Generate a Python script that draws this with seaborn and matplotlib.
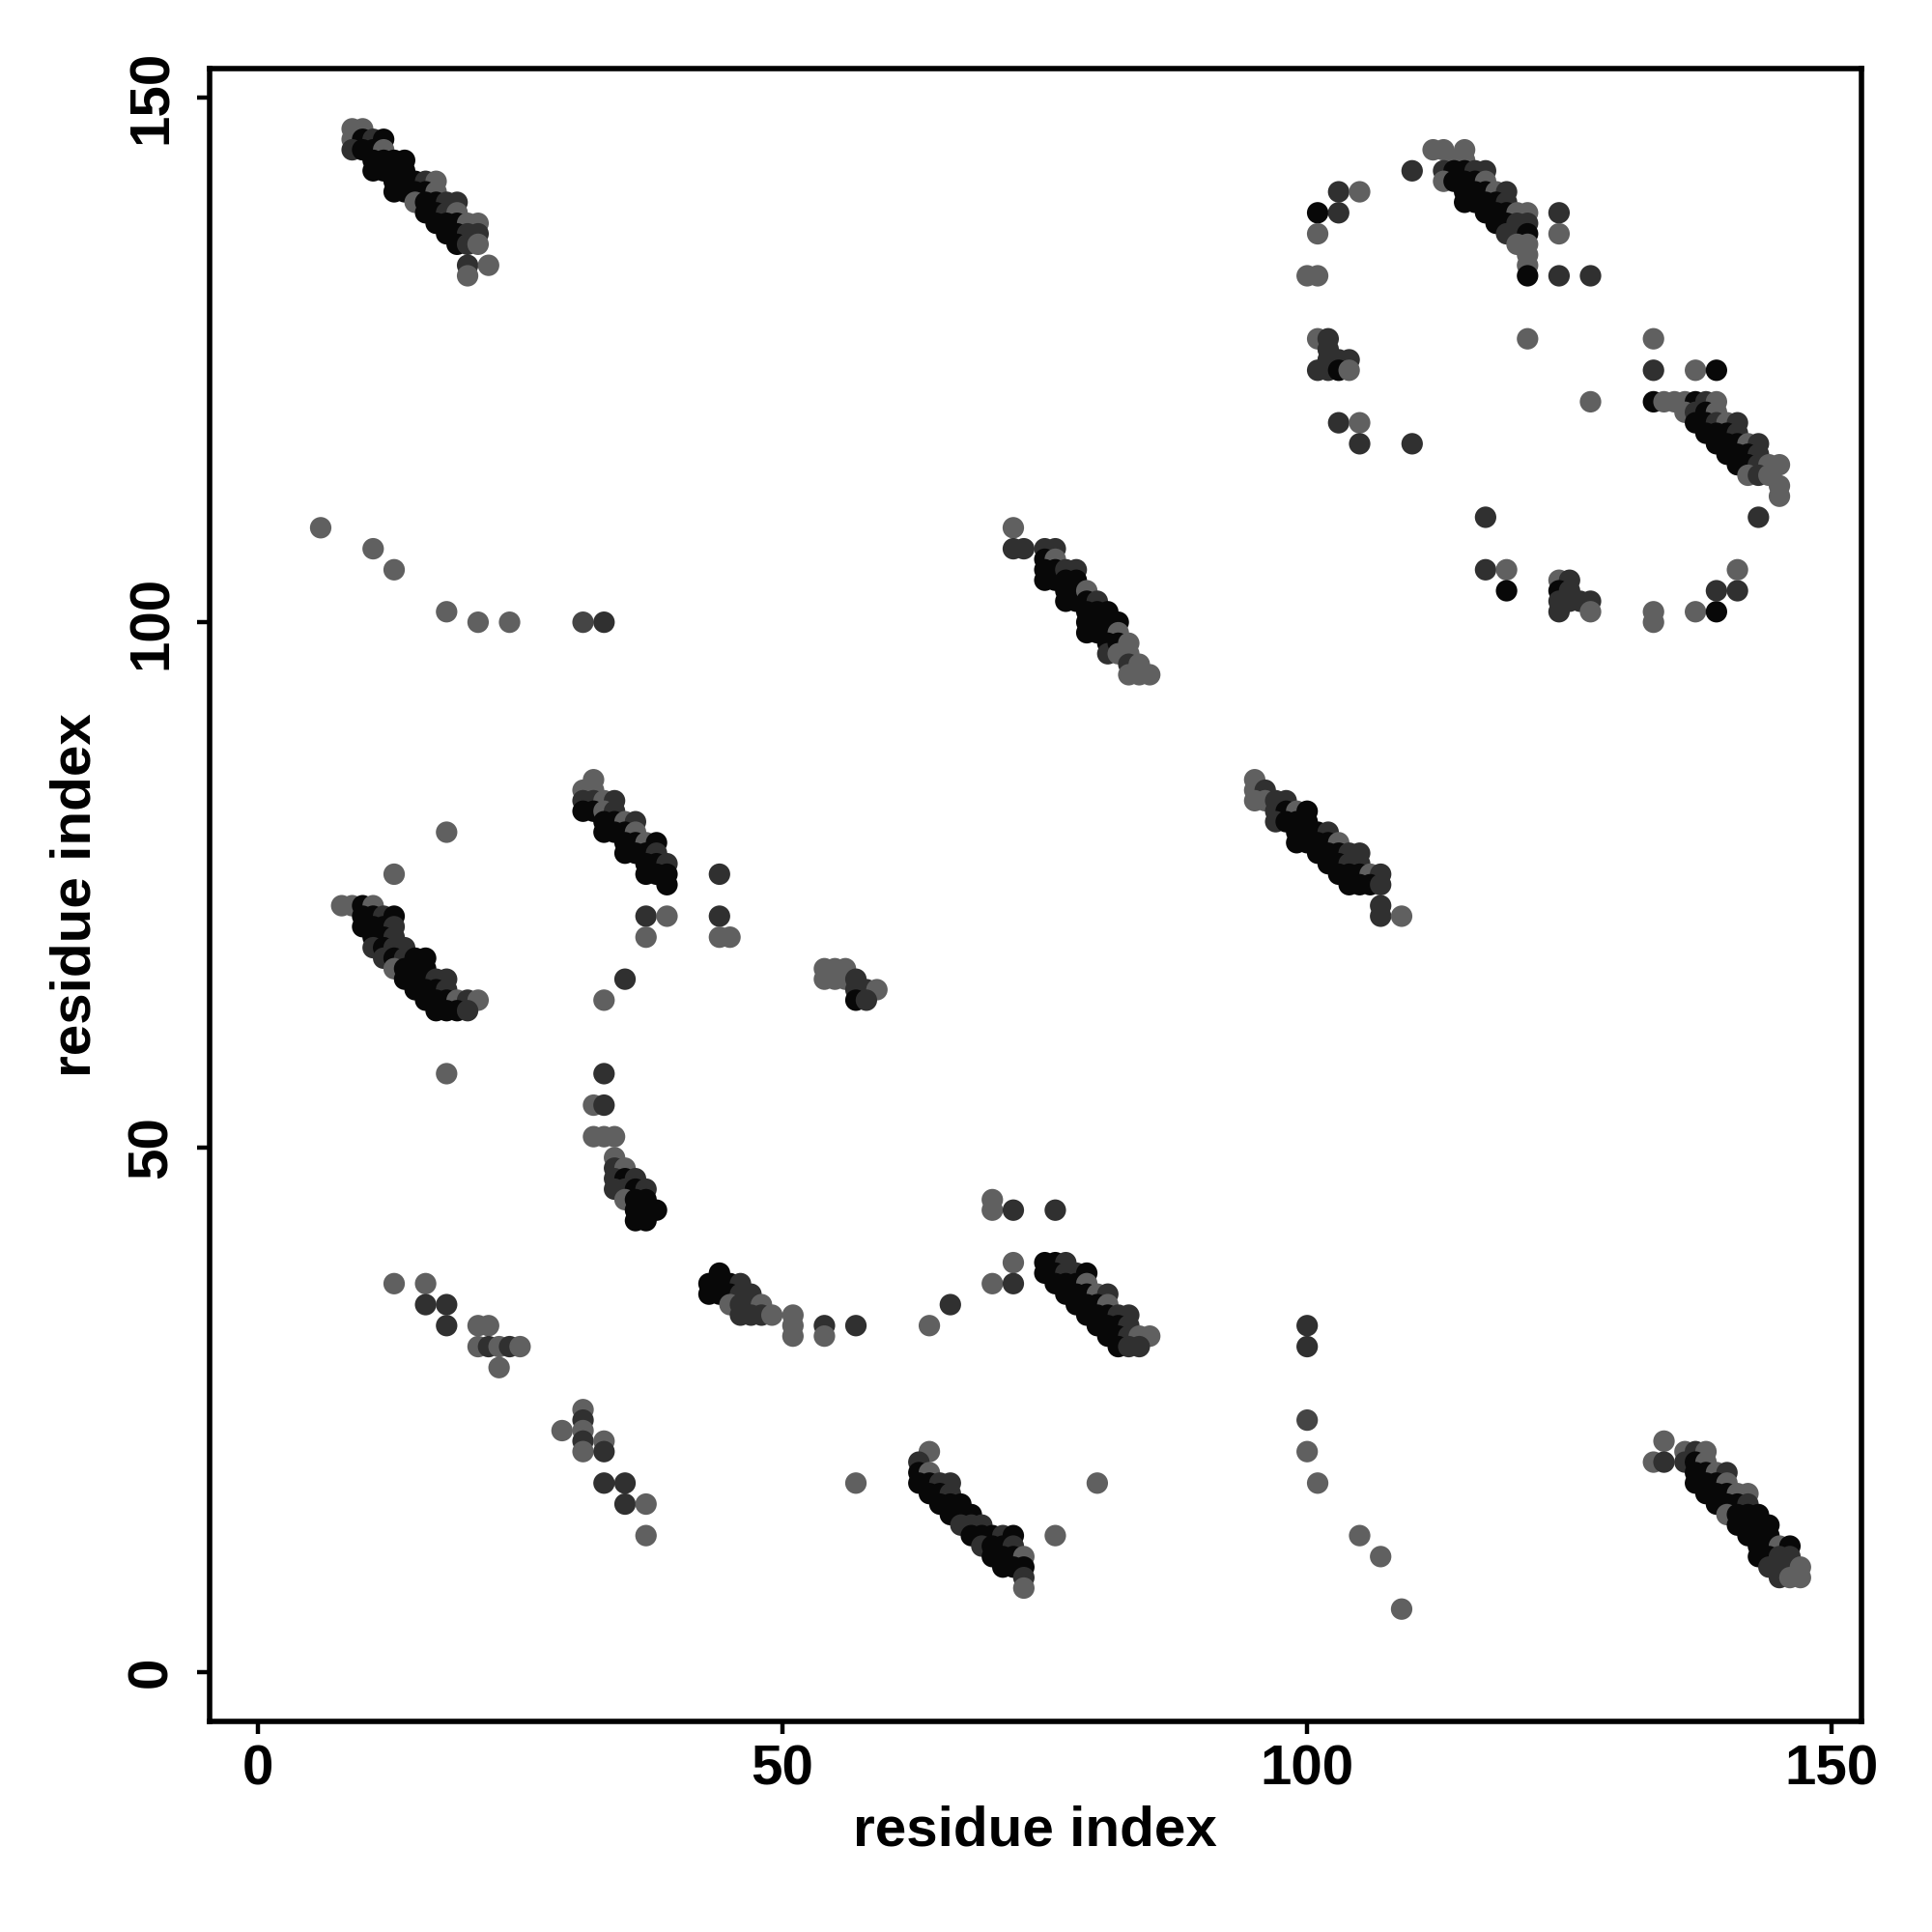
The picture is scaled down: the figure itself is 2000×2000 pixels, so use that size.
import seaborn as sns
import matplotlib.pyplot as plt
import pandas as pd
from matplotlib.colors import LinearSegmentedColormap

# predicted contacts (residue i, residue j, shade)
# shade: l = light grey, m = mid grey, d = dark grey, k = black
band_top_left = [
    (9, 147, "l"), (10, 147, "l"), (9, 146, "l"), (10, 146, "k"), (11, 146, "d"), (12, 146, "k"),
    (9, 145, "d"), (10, 145, "k"), (11, 145, "k"), (12, 145, "l"),
    (11, 144, "k"), (12, 144, "k"), (13, 144, "k"), (14, 144, "k"),
    (11, 143, "k"), (12, 143, "k"), (13, 143, "k"), (14, 143, "k"),
    (13, 142, "k"), (14, 142, "k"), (15, 142, "k"), (16, 142, "d"), (17, 142, "l"),
    (13, 141, "k"), (14, 141, "k"), (15, 141, "k"), (16, 141, "k"), (17, 141, "l"),
    (15, 140, "l"), (16, 140, "k"), (17, 140, "k"), (18, 140, "d"), (19, 140, "d"),
    (16, 139, "k"), (17, 139, "k"), (18, 139, "d"), (19, 139, "l"),
    (17, 138, "k"), (18, 138, "k"), (19, 138, "k"), (20, 138, "l"), (21, 138, "l"),
    (18, 137, "k"), (19, 137, "k"), (20, 137, "d"), (21, 137, "d"),
    (19, 136, "k"), (20, 136, "d"), (21, 136, "l"),
    (20, 134, "d"), (20, 133, "l"), (22, 134, "l"),
]

stray_left = [
    (6, 109, "l"), (11, 107, "l"), (13, 105, "l"), (18, 101, "l"), (21, 100, "l"),
    (24, 100, "l"), (31, 100, "m"), (33, 100, "d"),
    (18, 80, "l"), (13, 76, "l"), (18, 57, "l"),
    (44, 76, "d"), (44, 72, "d"), (44, 70, "l"), (45, 70, "l"),
    (37, 72, "d"), (39, 72, "l"), (37, 70, "l"), (35, 66, "d"), (33, 64, "l"),
    (33, 57, "d"), (32, 54, "l"), (33, 54, "d"), (32, 51, "l"), (33, 51, "l"), (34, 51, "l"),
]

band_mid_top = [
    (72, 109, "l"), (72, 107, "d"), (73, 107, "d"), (75, 107, "d"), (76, 107, "d"),
    (75, 106, "k"), (76, 106, "l"), (75, 105, "k"), (75, 104, "k"), (76, 105, "k"), (76, 104, "k"),
    (77, 105, "d"), (78, 105, "d"), (77, 104, "k"), (78, 104, "k"), (77, 103, "k"), (77, 102, "k"),
    (78, 103, "k"), (78, 102, "k"), (79, 103, "l"), (79, 102, "k"), (80, 102, "d"),
    (80, 101, "k"), (79, 101, "k"), (79, 100, "k"), (79, 99, "k"), (80, 100, "k"), (80, 99, "k"),
    (81, 101, "k"), (81, 100, "k"), (82, 100, "k"), (81, 99, "k"), (82, 99, "l"),
    (81, 98, "k"), (81, 97, "d"), (82, 98, "k"), (83, 98, "l"), (83, 97, "l"), (82, 97, "l"),
    (83, 96, "d"), (84, 96, "l"), (83, 95, "l"), (84, 95, "l"), (85, 95, "l"),
]

top_right = [
    (110, 143, "d"), (103, 141, "d"), (105, 141, "l"), (101, 139, "k"), (103, 139, "d"),
    (101, 137, "l"), (100, 133, "l"), (101, 133, "l"),
    (124, 139, "d"), (124, 137, "l"), (124, 133, "d"), (127, 133, "d"),
    (121, 127, "l"), (101, 127, "l"), (102, 127, "d"), (102, 126, "d"), (102, 125, "d"),
    (103, 125, "d"), (104, 125, "d"), (101, 124, "d"), (102, 124, "d"), (103, 124, "k"), (104, 124, "l"),
    (127, 121, "l"), (103, 119, "d"), (105, 119, "l"), (105, 117, "d"), (110, 117, "d"),
    (133, 127, "l"), (133, 124, "d"), (137, 124, "l"), (139, 124, "k"),
    (143, 110, "d"), (117, 110, "d"), (117, 105, "d"), (119, 105, "l"), (119, 103, "k"),
    (124, 104, "l"), (125, 104, "d"), (124, 103, "k"), (125, 103, "d"), (124, 102, "d"),
    (125, 102, "d"), (126, 102, "d"), (127, 102, "d"), (124, 101, "d"), (127, 101, "l"),
    (133, 101, "l"), (133, 100, "l"), (137, 101, "l"), (139, 101, "k"), (139, 103, "d"),
    (141, 103, "d"), (141, 105, "l"),
]

band_top_right = [
    (112, 145, "l"), (113, 145, "l"), (115, 145, "l"), (114, 144, "l"), (115, 144, "l"),
    (113, 143, "d"), (114, 143, "k"), (115, 143, "k"), (116, 143, "d"), (117, 143, "d"),
    (113, 142, "l"), (114, 142, "k"), (115, 142, "k"), (116, 142, "k"), (117, 142, "l"),
    (115, 141, "k"), (116, 141, "k"), (117, 141, "k"), (118, 141, "l"), (119, 141, "d"),
    (115, 140, "k"), (116, 140, "k"), (117, 140, "k"), (118, 140, "k"), (119, 140, "d"),
    (117, 139, "k"), (118, 139, "k"), (119, 139, "k"), (120, 139, "l"), (121, 139, "l"),
    (118, 138, "k"), (119, 138, "k"), (120, 138, "d"), (121, 138, "d"),
    (119, 137, "d"), (120, 137, "d"), (121, 137, "k"),
    (120, 136, "l"), (121, 136, "l"), (121, 135, "l"), (121, 134, "l"), (121, 133, "k"),
]

band_right = [
    (133, 121, "k"), (134, 121, "l"), (135, 121, "l"), (136, 121, "l"), (137, 121, "k"),
    (138, 121, "d"), (139, 121, "l"),
    (136, 120, "l"), (137, 120, "d"), (138, 120, "k"), (139, 120, "l"),
    (137, 119, "k"), (138, 119, "k"), (139, 119, "d"), (140, 119, "l"), (141, 119, "d"),
    (138, 118, "k"), (139, 118, "k"), (140, 118, "k"), (141, 118, "d"),
    (139, 117, "k"), (140, 117, "k"), (141, 117, "k"), (142, 117, "l"), (143, 117, "d"),
    (140, 116, "k"), (141, 116, "k"), (142, 116, "k"), (143, 116, "d"),
    (141, 115, "k"), (142, 115, "k"), (143, 115, "d"), (144, 115, "l"), (145, 115, "l"),
    (142, 114, "l"), (143, 114, "d"), (144, 114, "l"), (145, 113, "l"), (145, 112, "l"),
]

band_left_mid = [
    (8, 73, "l"), (9, 73, "l"), (10, 73, "k"), (11, 73, "l"),
    (10, 72, "k"), (11, 72, "k"), (12, 72, "d"), (13, 72, "k"),
    (10, 71, "k"), (11, 71, "k"), (12, 71, "k"), (13, 71, "d"),
    (11, 70, "k"), (12, 70, "k"), (13, 70, "d"),
    (11, 69, "d"), (12, 69, "k"), (13, 69, "d"), (14, 69, "d"),
    (12, 68, "d"), (13, 68, "k"), (14, 68, "d"), (15, 68, "k"), (16, 68, "k"),
    (13, 67, "l"), (14, 67, "k"), (15, 67, "k"), (16, 67, "k"),
    (14, 66, "k"), (15, 66, "k"), (16, 66, "k"), (17, 66, "d"), (18, 66, "d"),
    (15, 65, "k"), (16, 65, "k"), (17, 65, "k"), (18, 65, "d"),
    (16, 64, "k"), (17, 64, "k"), (18, 64, "k"), (19, 64, "l"), (20, 64, "d"), (21, 64, "l"),
    (17, 63, "k"), (18, 63, "k"), (19, 63, "k"), (20, 63, "d"),
]

band_centre = [
    (32, 85, "l"), (31, 84, "l"), (32, 84, "l"),
    (31, 83, "d"), (32, 83, "d"), (33, 83, "l"), (34, 83, "d"),
    (31, 82, "k"), (32, 82, "k"), (33, 82, "l"), (34, 82, "d"),
    (33, 81, "k"), (34, 81, "k"), (35, 81, "l"), (36, 81, "d"),
    (33, 80, "k"), (34, 80, "k"), (35, 80, "k"), (36, 80, "l"),
    (35, 79, "k"), (36, 79, "k"), (37, 79, "l"), (38, 79, "k"),
    (35, 78, "k"), (36, 78, "k"), (37, 78, "k"), (38, 78, "d"),
    (37, 77, "k"), (38, 77, "k"), (39, 77, "d"),
    (37, 76, "k"), (38, 76, "k"), (39, 76, "k"), (39, 75, "k"),
]

band_centre_low = [
    (34, 49, "l"), (34, 48, "d"), (35, 48, "l"), (34, 47, "d"), (35, 47, "k"), (36, 47, "d"),
    (34, 46, "d"), (35, 46, "d"), (36, 46, "k"), (37, 46, "d"), (35, 45, "l"), (36, 45, "k"),
    (37, 45, "k"), (36, 44, "k"), (37, 44, "k"), (38, 44, "k"), (36, 43, "k"), (37, 43, "k"),
]

patch_mid = [
    (54, 67, "l"), (55, 67, "l"), (56, 67, "l"), (54, 66, "l"), (55, 66, "l"), (56, 66, "l"),
    (57, 66, "d"), (57, 65, "d"), (58, 65, "d"), (59, 65, "l"), (57, 64, "k"), (58, 64, "d"),
]

band_mid_right = [
    (95, 85, "l"), (95, 84, "l"), (96, 84, "d"), (95, 83, "l"), (96, 83, "l"), (97, 83, "d"), (98, 83, "d"),
    (97, 82, "d"), (98, 82, "k"), (99, 82, "l"), (100, 82, "k"),
    (97, 81, "d"), (98, 81, "k"), (99, 81, "k"), (100, 81, "k"),
    (99, 80, "k"), (100, 80, "k"), (101, 80, "k"), (102, 80, "d"),
    (99, 79, "k"), (100, 79, "k"), (101, 79, "k"), (102, 79, "k"), (103, 79, "l"),
    (101, 78, "k"), (102, 78, "k"), (103, 78, "k"), (104, 78, "d"), (105, 78, "d"),
    (102, 77, "k"), (103, 77, "k"), (104, 77, "d"), (105, 77, "d"),
    (103, 76, "k"), (104, 76, "k"), (105, 76, "k"), (106, 76, "l"), (107, 76, "d"),
    (104, 75, "k"), (105, 75, "k"), (106, 75, "k"), (107, 75, "d"),
    (107, 73, "d"), (107, 72, "d"), (109, 72, "l"),
]

lower_left = [
    (13, 37, "l"), (16, 37, "l"), (16, 35, "d"), (18, 35, "d"), (18, 33, "d"),
    (21, 33, "l"), (22, 33, "l"), (21, 31, "l"), (22, 31, "d"), (23, 31, "l"),
    (24, 31, "d"), (25, 31, "l"), (23, 29, "l"),
    (29, 23, "l"), (31, 25, "l"), (31, 24, "d"), (31, 23, "l"), (31, 22, "d"), (31, 21, "l"),
    (33, 22, "l"), (33, 21, "d"), (33, 18, "d"), (35, 18, "d"), (35, 16, "d"), (37, 16, "l"),
    (37, 13, "l"),
]

band_lower_mid = [
    (44, 38, "k"), (43, 37, "k"), (44, 37, "k"), (45, 37, "k"), (46, 37, "d"),
    (43, 36, "k"), (44, 36, "k"), (45, 36, "k"), (46, 36, "d"), (47, 36, "d"),
    (45, 35, "l"), (46, 35, "d"), (47, 35, "d"), (48, 35, "l"),
    (46, 34, "d"), (47, 34, "d"), (48, 34, "d"), (49, 34, "l"),
    (51, 34, "l"), (51, 33, "l"), (51, 32, "l"), (54, 33, "d"), (54, 32, "l"), (57, 33, "d"),
    (57, 18, "l"),
    (70, 45, "l"), (70, 44, "l"), (72, 44, "d"), (76, 44, "d"), (72, 39, "l"),
    (70, 37, "l"), (72, 37, "d"), (66, 35, "d"), (64, 33, "l"),
    (76, 13, "l"), (80, 18, "l"),
]

band_lower_right = [
    (75, 39, "k"), (76, 39, "k"), (77, 39, "d"),
    (75, 38, "k"), (76, 38, "k"), (77, 38, "d"), (78, 38, "d"), (79, 38, "k"),
    (76, 37, "k"), (77, 37, "k"), (78, 37, "k"), (79, 37, "l"),
    (77, 36, "k"), (78, 36, "k"), (79, 36, "k"), (80, 36, "l"), (81, 36, "d"),
    (78, 35, "k"), (79, 35, "k"), (80, 35, "k"), (81, 35, "l"),
    (79, 34, "k"), (80, 34, "k"), (81, 34, "k"), (82, 34, "d"), (83, 34, "d"),
    (80, 33, "k"), (81, 33, "k"), (82, 33, "k"), (83, 33, "d"),
    (81, 32, "k"), (82, 32, "k"), (83, 32, "d"), (84, 32, "l"), (85, 32, "l"),
    (82, 31, "k"), (83, 31, "d"), (84, 31, "d"),
]

band_bottom_mid = [
    (64, 21, "l"), (63, 20, "d"), (63, 19, "k"), (64, 19, "l"), (63, 18, "k"), (64, 18, "k"),
    (65, 18, "d"), (66, 18, "d"), (64, 17, "k"), (65, 17, "k"), (66, 17, "d"),
    (65, 16, "k"), (66, 16, "k"), (67, 16, "k"), (66, 15, "k"), (67, 15, "k"), (68, 15, "k"),
    (67, 14, "d"), (68, 14, "d"), (69, 14, "d"),
    (68, 13, "k"), (69, 13, "k"), (70, 13, "k"), (71, 13, "d"), (72, 13, "k"),
    (69, 12, "d"), (70, 12, "k"), (71, 12, "k"), (72, 12, "d"),
    (70, 11, "k"), (71, 11, "k"), (72, 11, "k"), (73, 11, "l"),
    (71, 10, "k"), (72, 10, "k"), (73, 10, "k"), (73, 9, "d"), (73, 8, "l"),
]

column_100 = [
    (100, 33, "d"), (100, 31, "d"), (100, 24, "m"), (100, 21, "l"), (101, 18, "l"),
    (105, 13, "l"), (107, 11, "l"), (109, 6, "l"),
]

band_bottom_right = [
    (134, 22, "l"), (133, 20, "l"), (134, 20, "d"), (136, 21, "l"), (137, 21, "d"), (138, 21, "l"),
    (136, 20, "d"), (137, 20, "k"), (138, 20, "l"), (137, 19, "k"), (138, 19, "k"),
    (139, 19, "l"), (140, 19, "d"),
    (137, 18, "k"), (138, 18, "k"), (139, 18, "k"), (140, 18, "l"),
    (138, 17, "k"), (139, 17, "k"), (140, 17, "k"), (141, 17, "l"), (142, 17, "l"),
    (139, 16, "k"), (140, 16, "k"), (141, 16, "k"), (142, 16, "d"),
    (140, 15, "l"), (141, 15, "k"), (142, 15, "k"), (143, 15, "k"),
    (141, 14, "k"), (142, 14, "k"), (143, 14, "k"), (144, 14, "k"),
    (142, 13, "k"), (143, 13, "k"), (144, 13, "k"),
    (143, 12, "k"), (144, 12, "k"), (145, 12, "l"), (146, 12, "k"),
    (143, 11, "k"), (144, 11, "k"), (145, 11, "d"), (146, 11, "d"),
    (144, 10, "d"), (145, 10, "d"), (147, 10, "l"),
    (145, 9, "d"), (146, 9, "l"), (147, 9, "l"),
]

shade_value = {"l": 0.1, "m": 0.35, "d": 0.55, "k": 0.92}

pts = (stray_left + top_right + lower_left + band_lower_mid + column_100 + patch_mid
       + band_top_left + band_mid_top + band_top_right + band_right + band_left_mid
       + band_centre + band_centre_low + band_mid_right + band_lower_right
       + band_bottom_mid + band_bottom_right)
df = pd.DataFrame(pts, columns=["i", "j", "shade"])
df["conf"] = df["shade"].map(shade_value)

sns.set_theme(style="white")
plt.rcParams["font.family"] = ["Liberation Sans", "DejaVu Sans"]
plt.rcParams["font.weight"] = "bold"
plt.rcParams["text.color"] = "black"
plt.rcParams["axes.labelcolor"] = "black"
plt.rcParams["xtick.color"] = "black"
plt.rcParams["ytick.color"] = "black"

fig = plt.figure(figsize=(10, 10), dpi=200)
ax = fig.add_axes([0.1084, 0.109, 0.855, 0.8553])

greys = LinearSegmentedColormap.from_list("greys", ["#6a6a6a", "#000000"])
sns.scatterplot(data=df, x="i", y="j", hue="conf", palette=greys, hue_norm=(0, 1),
                s=64, linewidth=0, legend=False, ax=ax)

ax.set_xlim(-4.6, 152.8)
ax.set_ylim(-4.7, 152.7)
ax.set_xticks([0, 50, 100, 150])
ax.set_yticks([0, 50, 100, 150])
ax.set_yticklabels(["0", "50", "100", "150"], rotation=90, va="center")
for sp in ax.spines.values():
    sp.set_color("black")
    sp.set_linewidth(2.0)
ax.tick_params(axis="both", which="both", direction="out", length=4.6, width=1.6,
               color="black", labelcolor="black", labelsize=21, pad=4, bottom=True, left=True)
ax.tick_params(axis="y", pad=7)
for lab in ax.get_xticklabels() + ax.get_yticklabels():
    lab.set_fontweight("bold")
ax.set_xlabel("residue index", fontsize=21, fontweight="bold", labelpad=3, color="black")
ax.set_ylabel("residue index", fontsize=21, fontweight="bold", labelpad=9, color="black")

fig.savefig("out.png", dpi=200, facecolor="white")
